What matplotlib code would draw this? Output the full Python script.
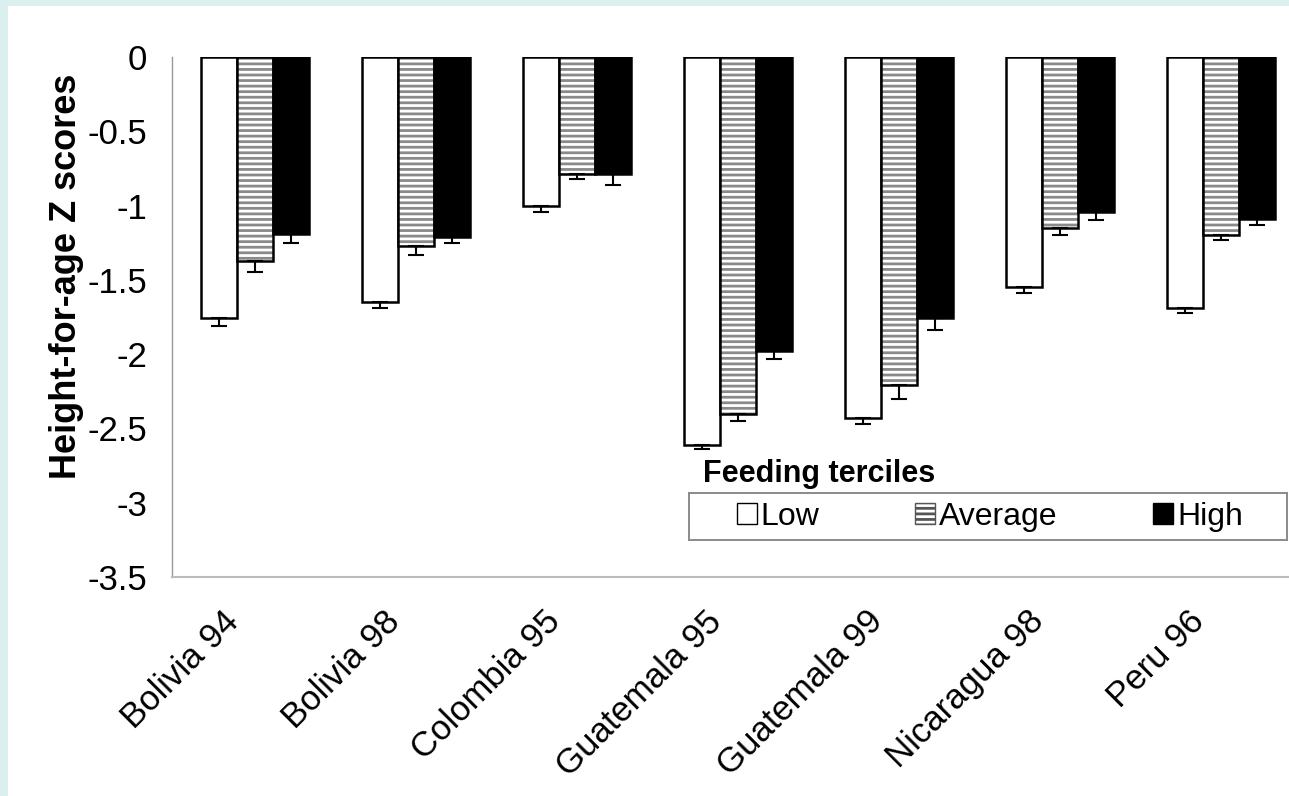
import numpy as np
import matplotlib
matplotlib.use('Agg')
import matplotlib.pyplot as plt
import matplotlib.transforms as mtransforms
from matplotlib.patches import Rectangle, Patch

plt.rcParams['font.family'] = ['Liberation Sans', 'DejaVu Sans']
plt.rcParams['hatch.linewidth'] = 2.0

surveys = ['Bolivia 94', 'Bolivia 98', 'Colombia 95', 'Guatemala 95',
           'Guatemala 99', 'Nicaragua 98', 'Peru 96']
low = [-1.76, -1.65, -1.00, -2.61, -2.43, -1.55, -1.69]
average = [-1.37, -1.27, -0.79, -2.40, -2.21, -1.15, -1.20]
high = [-1.19, -1.21, -0.79, -1.98, -1.76, -1.04, -1.09]
low_err = [0.05, 0.04, 0.04, 0.03, 0.04, 0.04, 0.03]
avg_err = [0.08, 0.06, 0.03, 0.05, 0.09, 0.05, 0.03]
high_err = [0.06, 0.04, 0.07, 0.05, 0.08, 0.06, 0.04]
yticks = [0, -0.5, -1, -1.5, -2, -2.5, -3, -3.5]
ytick_labels = ['0', '-0.5', '-1', '-1.5', '-2', '-2.5', '-3', '-3.5']

W, H = 1289, 796
fig = plt.figure(figsize=(W / 100, H / 100), dpi=100)
fig.patch.set_facecolor('#dcefef')
fig.patches.append(Rectangle((8 / W, 0), 1, 1 - 6 / H, transform=fig.transFigure,
                             facecolor='white', edgecolor='none', zorder=-10))

ax = fig.add_axes([172 / W, 1 - 577 / H, 1 - 172 / W, (577 - 57) / H])
ax.set_facecolor('none')

x = np.arange(len(surveys))
w = 0.224

ax.bar(x - w, low, w, color='white', edgecolor='black', linewidth=1.8, zorder=2)
ax.bar(x, average, w, color='white', edgecolor='#8a8a8a', hatch='---', linewidth=0, zorder=2)
ax.bar(x, average, w, fill=False, edgecolor='black', linewidth=1.8, zorder=3)
ax.bar(x + w, high, w, color='black', edgecolor='black', linewidth=1.8, zorder=2)

for off, vals, errs in [(-w, low, low_err), (0, average, avg_err), (w, high, high_err)]:
    ax.errorbar(x + off, vals, yerr=[errs, [0] * len(errs)], fmt='none',
                ecolor='black', elinewidth=1.5, capsize=6, capthick=1.5, zorder=4)

ax.set_xlim(-(255 - 172) / 161, (W - 255) / 161)
ax.set_ylim(-3.5, 0)
ax.set_yticks(yticks)
ax.set_yticklabels(ytick_labels, fontsize=25)
ax.set_xticks(x)
ax.set_xticklabels(surveys, rotation=45, ha='right', rotation_mode='anchor', fontsize=25)
ax.tick_params(axis='y', length=0, pad=18)
ax.tick_params(axis='x', length=0, pad=20)
shift = mtransforms.ScaledTranslation(-33 / 100, 0, fig.dpi_scale_trans)
for lab in ax.get_xticklabels():
    lab.set_transform(lab.get_transform() + shift)

ax.set_ylabel('Height-for-age Z scores', fontsize=26, fontweight='bold')
ax.yaxis.label.set_va('center')
ax.yaxis.set_label_coords((67 - 172) / (W - 172), (577 - 276) / 520)

for s in ['top', 'right']:
    ax.spines[s].set_visible(False)
ax.spines['left'].set_color('#999999')
ax.spines['bottom'].set_color('#bbbbbb')
ax.spines['left'].set_linewidth(1)
ax.spines['bottom'].set_linewidth(1.5)

# legend box and title
fig.patches.append(Rectangle((689 / W, 1 - 540 / H), (1287 - 689) / W, 47 / H,
                             transform=fig.transFigure, facecolor='white',
                             edgecolor='#8a8a8a', linewidth=1.4, zorder=5))
handles = [Patch(facecolor='white', edgecolor='black', label='Low'),
           Patch(facecolor='white', edgecolor='#555555', hatch='---', label='Average'),
           Patch(facecolor='black', edgecolor='black', label='High')]
leg = fig.legend(handles=handles, loc='center left', ncol=3,
                 bbox_to_anchor=(737 / W, 1 - 517 / H), bbox_transform=fig.transFigure,
                 fontsize=23, frameon=False, handlelength=0.62, handleheight=0.62,
                 handletextpad=0.12, columnspacing=3.0, borderpad=0, borderaxespad=0)
leg.set_zorder(6)
fig.text(703 / W, 1 - 482 / H, 'Feeding terciles', fontsize=22, fontweight='bold',
         va='baseline', ha='left')

fig.savefig('out.png', dpi=100, facecolor=fig.get_facecolor())
